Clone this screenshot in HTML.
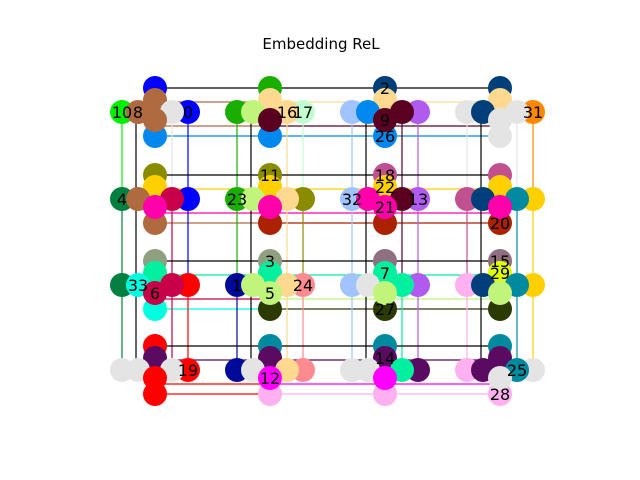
<!DOCTYPE html>
<html><head><meta charset="utf-8"><style>
body{margin:0;background:#fff;}
svg{display:block;font-family:"DejaVu Sans","Liberation Sans",sans-serif;}
</style></head><body>
<svg id="chart" width="640" height="480" viewBox="0 0 640 480">
<rect width="640" height="480" fill="#fff"/>
<text x="321" y="49" text-anchor="middle" font-size="15">Embedding ReL</text>
<g id="edges"></g>
<g id="nodes"></g>
</svg>
<script>
const colX = [155, 270, 385, 500];
const rowY = [112, 199, 285, 370];
// slots: top, upper, farLeft, nearLeft, nearRight, farRight, center, bottom
const slotDX = [0, 0, -33, -17, 17, 33, 0, 0];
const slotDY = [-24, -12, 0, 0, 0, 0, 8, 24];
const cellColors = [
 ["#0000ff","#b06a40","#00ee00","#b06a40","#e4e4e4","#0000ff","#b06a40","#0088ee"],
 ["#1aaf00","#ffd98f","#1aaf00","#c0f47a","#ffd98f","#c0ffd0","#5a0020","#0088ee"],
 ["#003f7a","#ffd98f","#a0c4ff","#0088ee","#5a0020","#b05af0","#5a0020","#0088ee"],
 ["#003f7a","#ffd98f","#e4e4e4","#003f7a","#e4e4e4","#ff8800","#e4e4e4","#e4e4e4"],
 ["#8a8c00","#ffd000","#008040","#b06a40","#c8004a","#0000ff","#ff00aa","#b06a40"],
 ["#8a8c00","#ffd000","#1aaf00","#c0f47a","#ffd98f","#8a8c00","#ff00aa","#aa2200"],
 ["#c05090","#ffd000","#a0c4ff","#ff00aa","#5a0020","#b05af0","#ff00aa","#aa2200"],
 ["#c05090","#ffd000","#c05090","#003f7a","#008aa0","#ffd000","#ff00aa","#aa2200"],
 ["#8fa080","#00f0a0","#008040","#00ffe0","#c8004a","#ff0000","#c8004a","#00ffe0"],
 ["#8fa080","#00f0a0","#000a9a","#c0f47a","#ffd98f","#ff8a90","#c0f47a","#2a3a00"],
 ["#907080","#00f0a0","#a0c4ff","#e4e4e4","#00f0a0","#b05af0","#c0f47a","#2a3a00"],
 ["#907080","#e0ff00","#ffb0f0","#003f7a","#008aa0","#ffd000","#c0f47a","#2a3a00"],
 ["#ff0000","#5a0a60","#e4e4e4","#e4e4e4","#e4e4e4","#ff0000","#ff0000","#ff0000"],
 ["#008aa0","#5a0a60","#000a9a","#e4e4e4","#ffd98f","#ff8a90","#ff00ff","#ffb0f0"],
 ["#008aa0","#5a0a60","#e4e4e4","#e4e4e4","#00f0a0","#5a0a60","#ff00ff","#ffb0f0"],
 ["#008aa0","#5a0a60","#ffb0f0","#5a0a60","#008aa0","#e4e4e4","#e4e4e4","#ffb0f0"]
];
// labels: [cellIndex, slot, text]
const labelCells = [0,0,0,1,1,2,2,2,3,4,5,5,6,6,6,6,6,7,8,8,9,9,9,9,10,10,11,11,12,13,14,15,15];
const labelSlots = [2,3,5,4,5,0,6,7,5,2,0,2,0,1,2,5,6,7,3,6,0,2,6,5,1,7,0,1,5,6,1,4,7];
const labelTexts = ["10","8","0","16","17","2","9","26","31","4","11","23","18","22","32","13","21","20","33","6","3","1","5","24","7","27","15","29","19","12","14","25","28"];

const NS = "http://www.w3.org/2000/svg";
const eg = document.getElementById("edges");
const ng = document.getElementById("nodes");
function sx(c, s){ return colX[c % 4] + slotDX[s]; }
function sy(c, s){ return rowY[Math.floor(c / 4)] + slotDY[s]; }
function line(x1,y1,x2,y2,col){
  const l = document.createElementNS(NS,"line");
  l.setAttribute("x1",x1);l.setAttribute("y1",y1);l.setAttribute("x2",x2);l.setAttribute("y2",y2);
  l.setAttribute("stroke",col);l.setAttribute("stroke-width","1.2");
  
  
  eg.appendChild(l);
}
for (let c = 0; c < 16; c++) {
  const col = c % 4, row = Math.floor(c / 4);
  const cols = cellColors[c];
  const cx = colX[col], cy = rowY[row];
  line(cx-15,cy,cx,cy-15,"#000");line(cx,cy-15,cx+15,cy,"#000");
  line(cx+15,cy,cx,cy+15,"#000");line(cx,cy+15,cx-15,cy,"#000");
  if (col < 3) {
    line(sx(c,0), sy(c,0), sx(c+1,0), sy(c+1,0), "#000");
    line(sx(c,1), sy(c,1)+2, sx(c+1,1), sy(c+1,1)+2, cols[1]);
    line(sx(c,6), sy(c,6)+6, sx(c+1,6), sy(c+1,6)+6, cols[6]);
    line(sx(c,7), sy(c,7), sx(c+1,7), sy(c+1,7), cols[7]);
  }
  if (row < 3) {
    line(sx(c,2), sy(c,2), sx(c+4,2), sy(c+4,2), cols[2]);
    line(sx(c,3)-2, sy(c,3), sx(c+4,3)-2, sy(c+4,3), "#000");
    line(sx(c,4), sy(c,4), sx(c+4,4), sy(c+4,4), cols[4]);
    line(sx(c,5), sy(c,5), sx(c+4,5), sy(c+4,5), cols[5]);
  }
}
const drawOrder = [0,7,2,5,1,3,4,6];
for (let c = 0; c < 16; c++) {
  for (const s of drawOrder) {
    const ci = document.createElementNS(NS,"circle");
    ci.setAttribute("cx", sx(c,s)); ci.setAttribute("cy", sy(c,s)); ci.setAttribute("r", 12);
    ci.setAttribute("fill", cellColors[c][s]);
    
    
    ng.appendChild(ci);
  }
}
for (let i = 0; i < labelTexts.length; i++) {
  const t = document.createElementNS(NS,"text");
  t.setAttribute("x", sx(labelCells[i], labelSlots[i]));
  t.setAttribute("y", sy(labelCells[i], labelSlots[i]) + 6);
  t.setAttribute("text-anchor","middle");
  t.setAttribute("font-size","16");
  t.textContent = labelTexts[i];
  
  
  ng.appendChild(t);
}
</script>
</body></html>
